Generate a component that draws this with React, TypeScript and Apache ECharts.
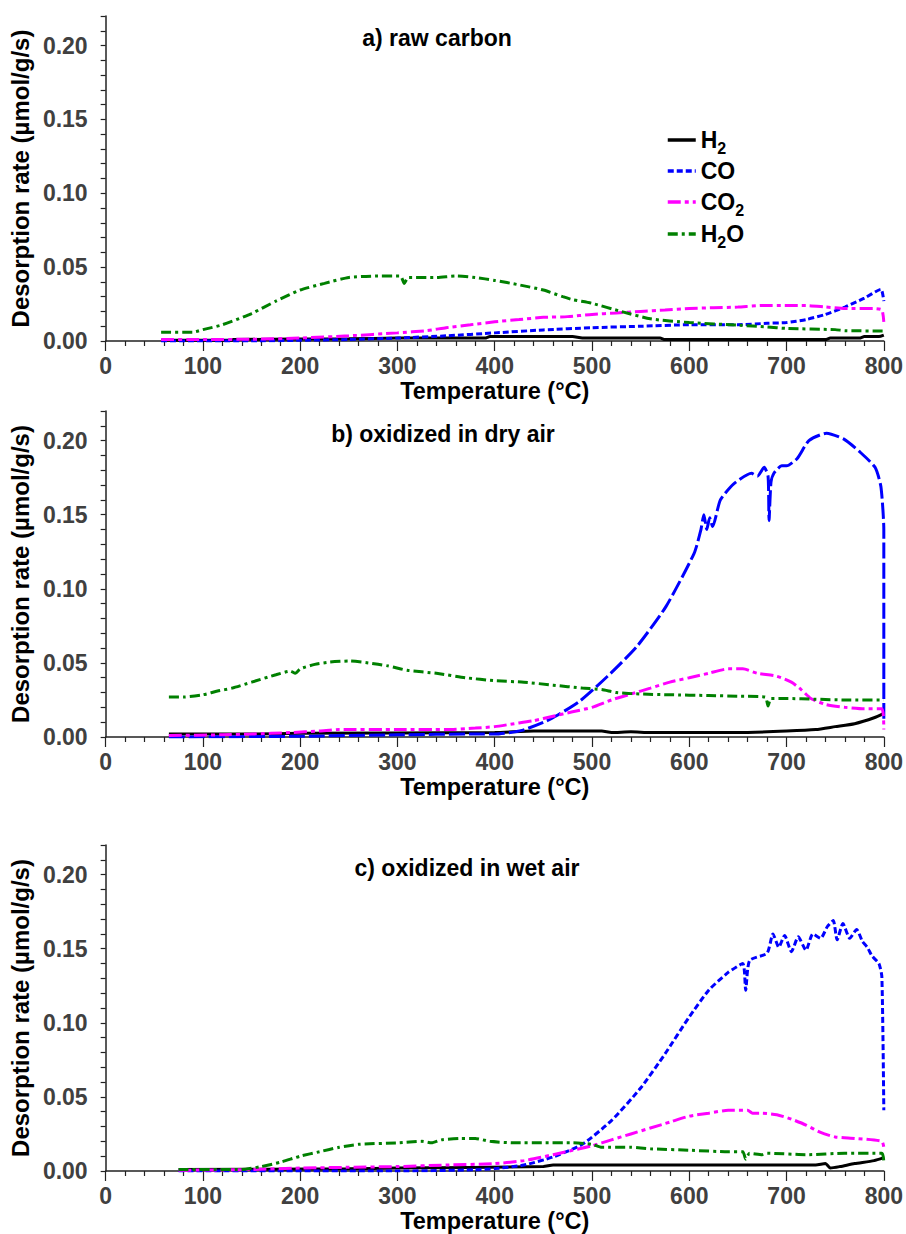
import React, { useEffect, useRef } from "react";
import * as echarts from "echarts";

// ---------- data (Temperature °C, desorption rate µmol/g/s) ----------
const panelTitles = ["a) raw carbon", "b) oxidized in dry air", "c) oxidized in wet air"];
const seriesNames = ["H2", "CO", "CO2", "H2O"];

const aH2 = [[57,0.0005],[130,0.0005],[131,0.001],[250,0.0015],[300,0.002],[390,0.002],[395,0.003],[480,0.003],[490,0.002],[570,0.002],[575,0.001],[740,0.001],[745,0.002],[775,0.002],[780,0.003],[795,0.003],[800,0.004]];
const aCO = [[57,0.0],[150,0.0],[200,0.0005],[250,0.001],[300,0.002],[350,0.0035],[400,0.0055],[450,0.0075],[500,0.009],[550,0.010],[600,0.011],[650,0.011],[680,0.012],[700,0.0125],[720,0.0145],[740,0.018],[760,0.023],[780,0.029],[797,0.035],[800,0.027]];
const aCO2 = [[57,0.001],[100,0.001],[150,0.0012],[200,0.002],[250,0.0035],[300,0.0055],[330,0.007],[350,0.009],[375,0.011],[400,0.013],[425,0.0145],[450,0.016],[475,0.0165],[500,0.018],[525,0.019],[550,0.020],[575,0.021],[600,0.022],[625,0.0225],[650,0.023],[675,0.024],[700,0.024],[720,0.024],[740,0.023],[760,0.022],[790,0.022],[798,0.021],[800,0.013]];
const aH2O = [[57,0.006],[90,0.006],[100,0.0077],[120,0.011],[150,0.0186],[175,0.027],[200,0.0345],[225,0.039],[250,0.043],[280,0.044],[303,0.044],[307,0.039],[311,0.043],[340,0.043],[360,0.044],[380,0.043],[400,0.041],[425,0.038],[450,0.0345],[470,0.030],[480,0.028],[500,0.0255],[530,0.020],[560,0.015],[600,0.0125],[650,0.0107],[680,0.0095],[700,0.0085],[750,0.0077],[760,0.007],[800,0.0068]];

const bH2 = [[65,0.002],[150,0.002],[200,0.0025],[400,0.003],[440,0.004],[510,0.004],[520,0.003],[540,0.0035],[560,0.003],[650,0.003],[700,0.004],[730,0.005],[750,0.007],[770,0.009],[790,0.013],[800,0.016]];
const bCO = [[65,0.0],[200,0.0005],[300,0.0015],[380,0.002],[400,0.002],[428,0.0045],[457,0.012],[487,0.024],[516,0.041],[546,0.061],[576,0.088],[605,0.124],[612,0.140],[615,0.150],[618,0.140],[621,0.148],[624,0.142],[632,0.160],[646,0.171],[664,0.178],[670,0.176],[677,0.182],[681,0.176],[682,0.146],[684,0.172],[687,0.178],[695,0.183],[700,0.183],[711,0.188],[723,0.200],[741,0.205],[759,0.201],[776,0.192],[791,0.182],[797,0.169],[800,0.14],[800,0.012]];
const bCO2 = [[65,0.001],[120,0.0015],[150,0.002],[190,0.003],[220,0.004],[240,0.005],[300,0.005],[350,0.005],[380,0.006],[400,0.007],[420,0.009],[440,0.011],[460,0.014],[480,0.017],[500,0.020],[520,0.025],[540,0.029],[560,0.033],[580,0.037],[600,0.040],[620,0.043],[640,0.046],[655,0.046],[670,0.043],[690,0.041],[705,0.037],[715,0.032],[725,0.026],[740,0.022],[760,0.020],[780,0.019],[798,0.019],[800,0.005]];
const bH2O = [[65,0.027],[80,0.027],[100,0.0285],[115,0.031],[130,0.033],[150,0.037],[175,0.042],[190,0.0445],[195,0.043],[200,0.046],[215,0.049],[230,0.0505],[250,0.0513],[270,0.050],[290,0.048],[310,0.045],[340,0.043],[370,0.040],[400,0.038],[430,0.037],[460,0.035],[490,0.033],[510,0.032],[525,0.030],[550,0.029],[580,0.0285],[620,0.028],[650,0.0275],[678,0.027],[681,0.021],[684,0.026],[700,0.026],[730,0.0255],[760,0.025],[800,0.025]];

const cH2 = [[75,0.001],[250,0.0015],[300,0.002],[450,0.003],[460,0.004],[650,0.004],[700,0.004],[730,0.004],[740,0.005],[745,0.002],[755,0.003],[770,0.005],[790,0.007],[800,0.009]];
const cCO = [[75,0.0],[300,0.0],[380,0.0008],[400,0.0016],[430,0.004],[460,0.0095],[490,0.018],[520,0.034],[550,0.056],[575,0.079],[600,0.104],[620,0.122],[640,0.134],[655,0.140],[658,0.122],[662,0.142],[680,0.147],[686,0.160],[692,0.151],[698,0.159],[705,0.148],[712,0.158],[720,0.149],[727,0.160],[735,0.157],[742,0.165],[748,0.169],[752,0.156],[758,0.167],[765,0.157],[772,0.163],[778,0.155],[783,0.151],[788,0.145],[795,0.140],[798,0.131],[800,0.041]];
const cCO2 = [[75,0.0005],[150,0.001],[200,0.002],[250,0.0025],[300,0.003],[350,0.004],[400,0.005],[430,0.007],[460,0.011],[480,0.014],[500,0.017],[520,0.021],[540,0.025],[560,0.029],[580,0.033],[600,0.037],[620,0.039],[640,0.041],[660,0.041],[665,0.039],[675,0.039],[690,0.038],[705,0.035],[720,0.031],[735,0.026],[750,0.023],[770,0.022],[798,0.020],[800,0.016]];
const cH2O = [[75,0.001],[140,0.001],[160,0.003],[180,0.006],[200,0.010],[220,0.013],[240,0.016],[260,0.018],[300,0.019],[325,0.020],[335,0.019],[345,0.021],[365,0.022],[380,0.022],[395,0.020],[420,0.019],[450,0.019],[480,0.019],[500,0.018],[510,0.016],[540,0.016],[560,0.015],[600,0.014],[640,0.013],[655,0.013],[658,0.008],[662,0.012],[675,0.011],[680,0.012],[720,0.011],[760,0.012],[798,0.012],[800,0.006]];

const panelData = [
  [aH2, aCO, aCO2, aH2O],
  [bH2, bCO, bCO2, bH2O],
  [cH2, cCO, cCO2, cH2O],
];

const colors = ["#000000", "#0000ff", "#ff00ff", "#008000"];
const FONT = "Liberation Sans, Arial, sans-serif";

export default function App() {
  const ref = useRef<HTMLDivElement>(null);
  useEffect(() => {
    const chart = echarts.init(ref.current!, null, { renderer: "svg" });
    const grids = [
      { left: 101, top: 16, width: 784, height: 325 },
      { left: 101, top: 411, width: 784, height: 326 },
      { left: 101, top: 845, width: 784, height: 326 },
    ];
    const titlePos = [
      [437, 38],
      [443, 434],
      [467, 868],
    ];
    const dashes: any[][] = [
      ["solid", [6, 3], [13, 4, 4, 4], [10, 4, 3, 4]],
      ["solid", [16, 4], [13, 4, 4, 4], [10, 4, 3, 4]],
      ["solid", [6, 3], [13, 4, 4, 4], [10, 4, 3, 4]],
    ];
    const xAxes = grids.map((_, i) => ({
      type: "value",
      gridIndex: i,
      min: 0,
      max: 800,
      interval: 100,
      name: "Temperature (°C)",
      nameLocation: "middle",
      nameGap: 38,
      nameTextStyle: { fontFamily: FONT, fontWeight: "bold", fontSize: 23.5, color: "#000" },
      axisLine: { onZero: false, lineStyle: { color: "#222", width: 1.5 } },
      axisTick: { show: true, length: 10, lineStyle: { color: "#222", width: 1.2 } },
      minorTick: { show: true, splitNumber: 5, length: 5, lineStyle: { color: "#222", width: 1.2 } },
      splitLine: { show: false },
      axisLabel: { margin: 13, fontFamily: FONT, fontWeight: "bold", fontSize: 23, color: "#404040" },
    }));
    const yAxes = grids.map((_, i) => ({
      type: "value",
      gridIndex: i,
      min: 0,
      max: 0.22,
      interval: 0.01,
      name: "Desorption rate (µmol/g/s)",
      nameLocation: "middle",
      nameRotate: 90,
      nameGap: 67,
      nameTextStyle: { fontFamily: FONT, fontWeight: "bold", fontSize: 24, color: "#000" },
      axisLine: { show: true, lineStyle: { color: "#222", width: 1.5 } },
      axisTick: { show: true, length: 5, lineStyle: { color: "#222", width: 1.2 } },
      splitLine: { show: false },
      axisLabel: {
        margin: 18,
        fontFamily: FONT,
        fontWeight: "bold",
        fontSize: 23,
        color: "#404040",
        formatter: (v: number) => (Math.round(v * 100) % 5 === 0 && v < 0.215 ? v.toFixed(2) : ""),
      },
    }));
    const series: any[] = [];
    panelData.forEach((arrs, p) => {
      arrs.forEach((d, k) => {
        series.push({
          type: "line",
          name: seriesNames[k],
          xAxisIndex: p,
          yAxisIndex: p,
          data: d,
          symbol: "none",
          showSymbol: false,
          smooth: 0.2,
          lineStyle: { color: colors[k], width: 3, type: dashes[p][k] },
          itemStyle: { color: colors[k] },
          z: 2 + k,
        });
      });
    });
    const labelMap: Record<string, string> = {
      H2: "H{sub|2}",
      CO: "CO",
      CO2: "CO{sub|2}",
      H2O: "H{sub|2}O",
    };
    chart.setOption({
      animation: false,
      backgroundColor: "#ffffff",
      grid: grids,
      xAxis: xAxes,
      yAxis: yAxes,
      legend: {
        data: seriesNames,
        orient: "vertical",
        left: 661,
        top: 119,
        itemWidth: 28,
        itemHeight: 14,
        itemGap: 0,
        itemStyle: { color: "rgba(0,0,0,0)", borderWidth: 0, opacity: 0 },
        lineStyle: { width: 3.5 },
        formatter: (n: string) => labelMap[n] || n,
        textStyle: {
          fontFamily: FONT,
          fontWeight: "bold",
          fontSize: 23,
          color: "#000",
          lineHeight: 30,
          rich: {
            sub: { fontFamily: FONT, fontWeight: "bold", fontSize: 16, lineHeight: 16, padding: [16, 0, 0, 0], color: "#000" },
          },
        },
      },
      graphic: titlePos.map((pos, i) => ({
        type: "text",
        x: pos[0],
        y: pos[1],
        style: {
          text: panelTitles[i],
          fontFamily: FONT,
          fontWeight: "bold",
          fontSize: 23,
          fill: "#000",
          textAlign: "center",
          textVerticalAlign: "middle",
        },
      })),
      series,
    });
    return () => chart.dispose();
  }, []);
  return (
    <div
      ref={ref}
      style={{ position: "absolute", left: 0, top: 0, width: 906, height: 1234, background: "#fff" }}
    />
  );
}
